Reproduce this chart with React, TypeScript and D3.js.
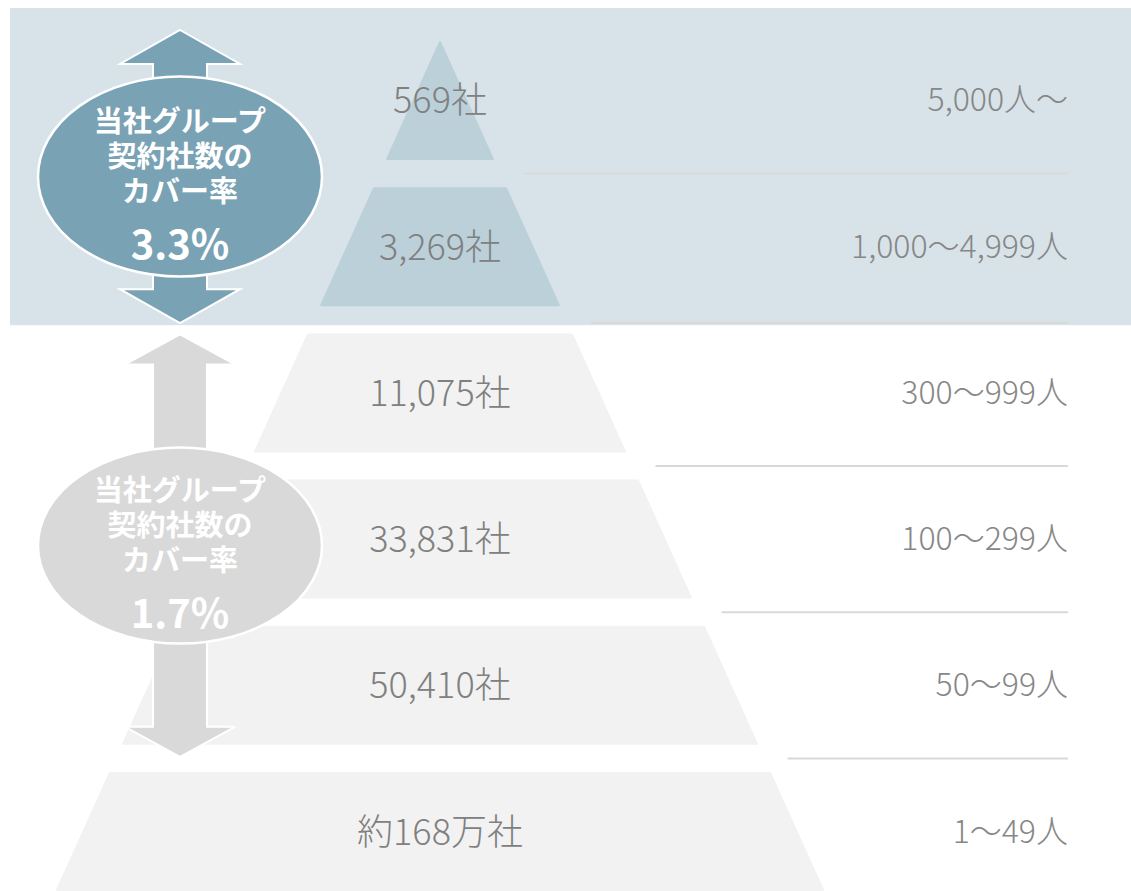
import * as d3 from "d3";
import { useEffect, useRef } from "react";

// company size bands, top (largest) to bottom
const sizeLabels = ["5,000人〜", "1,000〜4,999人", "300〜999人", "100〜299人", "50〜99人", "1〜49人"];
const companyCounts = ["569社", "3,269社", "11,075社", "33,831社", "50,410社", "約168万社"];
const coverTitle = ["当社グループ", "契約社数の", "カバー率"];
const coverRates = ["3.3%", "1.7%"];
const coverFrom = [0, 2];
const coverTo = [1, 4];
const highlighted = [0, 1];

function App() {
  const ref = useRef<SVGSVGElement>(null);

  useEffect(() => {
    const width = 1131;
    const height = 891;
    const cx = 440;
    const font = "'Noto Sans CJK JP', 'Noto Sans', sans-serif";

    const svg = d3.select(ref.current);
    svg.selectAll("*").remove();
    svg.attr("width", width).attr("height", height);

    const y = d3
      .scaleBand<number>()
      .domain(d3.range(sizeLabels.length))
      .range([42, 890])
      .paddingInner(0.2);
    const bw = y.bandwidth();
    const half = d3.scaleLinear().domain([42, 890]).range([0, 383]);

    // highlight band behind the top levels
    const hiTop = y(highlighted[0])! - 34;
    const hiBottom = y(highlighted[highlighted.length - 1])! + bw + 20;
    svg
      .append("rect")
      .attr("x", 10)
      .attr("y", hiTop)
      .attr("width", width - 10)
      .attr("height", hiBottom - hiTop)
      .attr("fill", "#d8e3e9");

    // pyramid segments
    const seg = svg.append("g");
    seg
      .selectAll("path")
      .data(d3.range(sizeLabels.length))
      .enter()
      .append("path")
      .attr("d", (i) => {
        const t = y(i)!;
        const b = t + bw;
        return d3.line()([
          [cx - half(t), t],
          [cx + half(t), t],
          [cx + half(b), b],
          [cx - half(b), b],
        ]) + "Z";
      })
      .attr("fill", (i) => (highlighted.includes(i) ? "#bcd0da" : "#f2f2f2"))
      .attr("stroke", (i) => (highlighted.includes(i) ? "#bcd0da" : "#f2f2f2"))
      .attr("stroke-width", 2)
      .attr("stroke-linejoin", "round");

    // separator rules on the right
    const rules = svg.append("g");
    d3.range(sizeLabels.length - 1).forEach((i) => {
      const ym = (y(i)! + bw + y(i + 1)!) / 2 + (i === 1 ? 3 : 0);
      rules
        .append("line")
        .attr("x1", cx + half(ym) + 24)
        .attr("x2", 1068)
        .attr("y1", ym)
        .attr("y2", ym)
        .attr("stroke", "#d9d9d9")
        .attr("stroke-width", 2);
    });

    // labels
    seg
      .selectAll("text.count")
      .data(companyCounts)
      .enter()
      .append("text")
      .attr("class", "count")
      .attr("x", cx)
      .attr("y", (d, i) => y(i)! + bw / 2 - 3)
      .attr("text-anchor", "middle")
      .attr("dominant-baseline", "central")
      .attr("font-family", font)
      .attr("font-weight", 300)
      .attr("font-size", 36)
      .attr("fill", "#808080")
      .text((d) => d);

    svg
      .append("g")
      .selectAll("text")
      .data(sizeLabels)
      .enter()
      .append("text")
      .attr("x", 1068)
      .attr("y", (d, i) => y(i)! + bw / 2 - 3)
      .attr("text-anchor", "end")
      .attr("dominant-baseline", "central")
      .attr("font-family", font)
      .attr("font-weight", 300)
      .attr("font-size", 32)
      .attr("fill", "#878787")
      .text((d) => d);

    // coverage arrows + ellipses
    const ax = 180;
    const fills = ["#79a2b5", "#d9d9d9"];
    coverRates.forEach((rate, k) => {
      const top = k === 0 ? hiTop + 22 : y(coverFrom[k])!;
      const bottom = k === 0 ? hiBottom - 2 : y(coverTo[k])! + bw + 13;
      const hh = k === 0 ? 34 : 30;
      const hw = k === 0 ? 60 : 55;
      const sw = 27;
      const g = svg.append("g");
      g.append("path")
        .attr(
          "d",
          d3.line()([
            [ax, top],
            [ax + hw, top + hh],
            [ax + sw, top + hh],
            [ax + sw, bottom - hh],
            [ax + hw, bottom - hh],
            [ax, bottom],
            [ax - hw, bottom - hh],
            [ax - sw, bottom - hh],
            [ax - sw, top + hh],
            [ax - hw, top + hh],
          ]) + "Z"
        )
        .attr("fill", fills[k])
        .attr("stroke", "#fff")
        .attr("stroke-width", 2);

      const cy = (top + bottom) / 2;
      g.append("ellipse")
        .attr("cx", ax)
        .attr("cy", cy)
        .attr("rx", 142)
        .attr("ry", k === 0 ? 100 : 98)
        .attr("fill", fills[k])
        .attr("stroke", "#fff")
        .attr("stroke-width", 2.5);

      coverTitle.forEach((line, j) => {
        g.append("text")
          .attr("x", ax)
          .attr("y", cy - 58 + j * 35)
          .attr("text-anchor", "middle")
          .attr("dominant-baseline", "central")
          .attr("font-family", font)
          .attr("font-weight", 700)
          .attr("font-size", 29)
          .attr("fill", "#fff")
          .text(line);
      });
      g.append("text")
        .attr("x", ax)
        .attr("y", cy + 65)
        .attr("text-anchor", "middle")
        .attr("dominant-baseline", "central")
        .attr("font-family", font)
        .attr("font-weight", 700)
        .attr("font-size", 40)
        .attr("fill", "#fff")
        .text(rate);
    });
  }, []);

  return (
    <svg
      ref={ref}
      style={{ position: "absolute", left: 0, top: 0, display: "block" }}
    ></svg>
  );
}

export default App;
